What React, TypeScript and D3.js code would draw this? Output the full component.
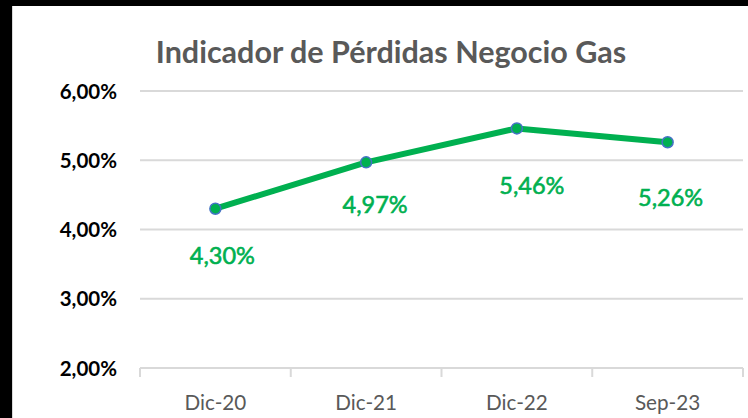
import React from "react";
import * as d3 from "d3";

const categories = ["Dic-20", "Dic-21", "Dic-22", "Sep-23"];
const values = [4.30, 4.97, 5.46, 5.26];
const yTicks = [2, 3, 4, 5, 6];
const title = "Indicador de Pérdidas Negocio Gas";

// layout: data label offsets from their points (px)
const labelDx = [7, 9, 15, 3];
const labelDy = [55, 51, 66, 64];

const W = 748, H = 418;
const fmt = (v: number, d: number) => v.toFixed(d).replace(".", ",") + "%";

export default function App() {
  const x = d3.scaleBand<string>().domain(categories).range([140, 743]);
  const y = d3.scaleLinear().domain([2, 6]).range([368, 91]);
  const cxOf = (i: number) => (x(categories[i]) as number) + x.bandwidth() / 2;
  const line = d3
    .line<number>()
    .x((_, i) => cxOf(i))
    .y((d) => y(d));
  const font = "Lato, 'Open Sans', sans-serif";
  return (
    <svg
      width={W}
      height={H}
      style={{ position: "absolute", left: 0, top: 0, display: "block" }}
    >
      <rect x={0} y={0} width={W} height={H} fill="#fff" />
      <rect x={0} y={0} width={W} height={6} fill="#000" />
      <rect x={0} y={0} width={12} height={H} fill="#000" />
      <line x1={12.5} y1={6} x2={12.5} y2={H} stroke="#d9d9d9" />
      <text
        x={391}
        y={63}
        textAnchor="middle"
        fontFamily={font}
        fontWeight="bold"
        fontSize={30.5}
        fill="#595959"
      >
        {title}
      </text>
      {yTicks.map((t) => (
        <g key={t}>
          <line
            x1={140}
            x2={743}
            y1={y(t)}
            y2={y(t)}
            stroke="#d9d9d9"
            strokeWidth={2}
          />
          <text
            x={117}
            y={y(t) + 7.5}
            textAnchor="end"
            fontFamily={font}
            fontWeight="bold"
            fontSize={20.5}
            fill="#000"
          >
            {fmt(t, 2)}
          </text>
        </g>
      ))}
      {categories.concat([""]).map((c, i) => {
        const xx = i < categories.length ? (x(c) as number) : 743;
        return (
          <line
            key={"tk" + i}
            x1={xx}
            x2={xx}
            y1={y(2)}
            y2={y(2) + 9}
            stroke="#d9d9d9"
            strokeWidth={2}
          />
        );
      })}
      {categories.map((c, i) => (
        <text
          key={c}
          x={cxOf(i)}
          y={410}
          textAnchor="middle"
          fontFamily={font}
          fontSize={20.7}
          fill="#595959"
        >
          {c}
        </text>
      ))}
      <path
        d={line(values) || ""}
        fill="none"
        stroke="#00B050"
        strokeWidth={6}
        strokeLinejoin="round"
        strokeLinecap="round"
      />
      {values.map((v, i) => (
        <g key={i}>
          <circle
            cx={cxOf(i)}
            cy={y(v)}
            r={5.5}
            fill="#00B050"
            stroke="#4472C4"
            strokeWidth={1.5}
          />
          <text
            x={cxOf(i) + labelDx[i]}
            y={y(v) + labelDy[i]}
            textAnchor="middle"
            fontFamily={font}
            fontSize={23.5}
            fill="#00B050"
            stroke="#00B050"
            strokeWidth={0.6}
          >
            {fmt(v, 2)}
          </text>
        </g>
      ))}
    </svg>
  );
}
